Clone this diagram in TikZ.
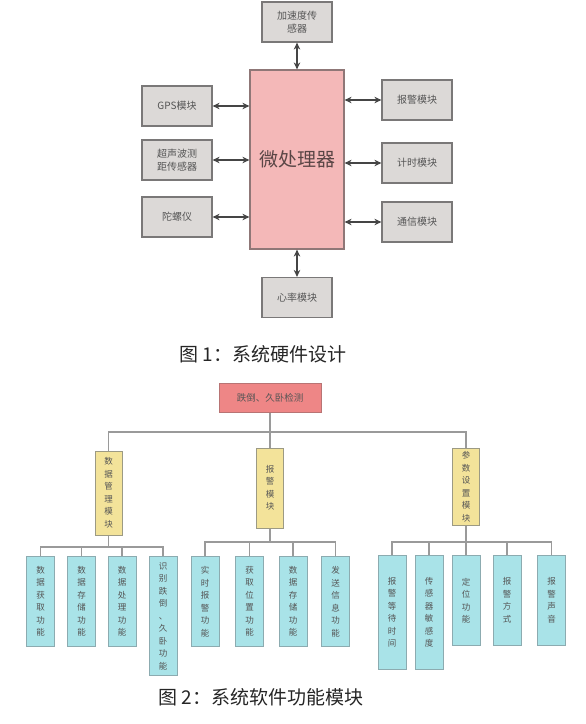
\documentclass[tikz,border=0pt]{standalone}
\usepackage{fontspec}
\newfontfamily\cjk{Noto Sans CJK SC}
\usetikzlibrary{arrows.meta}
\definecolor{boxgray}{HTML}{DCD9D7}
\definecolor{linegray}{HTML}{7A7878}
\definecolor{txtgray}{HTML}{555555}
\definecolor{cpufill}{HTML}{F4B8B8}
\definecolor{cpuline}{HTML}{8F7777}
\definecolor{cputxt}{HTML}{5A4646}
\definecolor{arrgray}{HTML}{454545}
\definecolor{rootfill}{HTML}{EE8686}
\definecolor{rootline}{HTML}{B87474}
\definecolor{modfill}{HTML}{F3E39A}
\definecolor{modline}{HTML}{9C9A84}
\definecolor{funfill}{HTML}{A9E3E8}
\definecolor{funline}{HTML}{8CABB0}
\definecolor{conngray}{HTML}{9A9A9A}

\begin{document}
\begin{tikzpicture}[x=1pt,y=-1pt,
  every node/.style={font=\cjk, inner sep=1, align=center},
  hwbox/.style={draw=linegray, fill=boxgray, line width=1.2, minimum width=70, minimum height=40, text=txtgray, font=\cjk\fontsize{10}{12.5}\selectfont},
  cpubox/.style={draw=cpuline, fill=cpufill, line width=1.2, minimum width=94, minimum height=179, text=cputxt, font=\cjk\fontsize{19}{22}\selectfont},
  biarr/.style={{Stealth[length=7pt,width=6.5pt]}-{Stealth[length=7pt,width=6.5pt]}, draw=arrgray, line width=1.3},
  rootbox/.style={draw=rootline, fill=rootfill, line width=1, minimum width=102, minimum height=29, text=txtgray, font=\cjk\fontsize{9.5}{11}\selectfont},
  modbox/.style={draw=modline, fill=modfill, line width=1, minimum width=27, text=txtgray, font=\cjk\fontsize{8.5}{12.5}\selectfont},
  funbox/.style={draw=funline, fill=funfill, line width=1, minimum width=28, anchor=north, text=txtgray, font=\cjk\fontsize{8.5}{12.5}\selectfont},
  conn/.style={draw=conngray, line width=1.2},
  capt/.style={font=\cjk\fontsize{19}{22}\selectfont, text=black!85}]
  \useasboundingbox (0,0) rectangle (586,724);
  % hardware
  \node[cpubox] (cpu) at (297,159.5) {微处理器};
  \node[hwbox] (acc) at (297,22) {加速度传\\感器};
  \node[hwbox] (heart) at (297,297.5) {心率模块};
  \draw[biarr] (acc) -- (cpu);
  \draw[biarr] (heart) -- (cpu);
  \foreach \n/\y/\lab in {gps/106/GPS模块,sonar/160/超声波测\\距传感器,gyro/217/陀螺仪} {
    \node[hwbox] (\n) at (177,\y) {\lab};
    \draw[biarr] (\n) -- (\n -| cpu.west);
  }
  \foreach \n/\y/\lab in {alarm/100/报警模块,timer/163/计时模块,comm/222/通信模块} {
    \node[hwbox] (\n) at (417,\y) {\lab};
    \draw[biarr] (\n) -- (\n -| cpu.east);
  }
  \node[capt] (cap1) at (263,354) {图 1：系统硬件设计};
  % software
  \node[rootbox] (root) at (270,397.5) {跌倒、久卧检测};
  \node[modbox, minimum height=84] (dm) at (108.5,493) {数\\据\\管\\理\\模\\块};
  \node[modbox, minimum height=80] (am) at (270,488) {报\\警\\模\\块};
  \node[modbox, minimum height=77] (ps) at (466,486.5) {参\\数\\设\\置\\模\\块};
  \coordinate (bus) at (270,432);
  \draw[conn] (root) -- (bus);
  \draw[conn] (dm.north) |- (bus) -| (ps.north);
  \draw[conn] (bus) -- (am.north);
  \coordinate (dmbus) at (108.5,547);
  \coordinate (ambus) at (270,542);
  \coordinate (psbus) at (466,542);
  \draw[conn] (dm) -- (dmbus);
  \draw[conn] (am) -- (ambus);
  \draw[conn] (ps) -- (psbus);
  \foreach \i/\x/\h/\lab in {1/40.5/90/数\\据\\获\\取\\功\\能,2/81.5/90/数\\据\\存\\储\\功\\能,3/122/90/数\\据\\处\\理\\功\\能,4/163/119/识\\别\\跌\\倒\\、\\久\\卧\\功\\能} {
    \node[funbox, minimum height=\h] (dmc\i) at (\x,556) {\lab};
    \draw[conn] (dmc\i.north) |- (dmbus);
  }
  \foreach \i/\x/\h/\lab in {1/205/90/实\\时\\报\\警\\功\\能,2/249.5/90/获\\取\\位\\置\\功\\能,3/293/90/数\\据\\存\\储\\功\\能,4/335.5/90/发\\送\\信\\息\\功\\能} {
    \node[funbox, minimum height=\h] (amc\i) at (\x,556) {\lab};
    \draw[conn] (amc\i.north) |- (ambus);
  }
  \foreach \i/\x/\h/\lab in {1/392/114/报\\警\\等\\待\\时\\间,2/429/114/传\\感\\器\\敏\\感\\度,3/466/90/定\\位\\功\\能,4/507/90/报\\警\\方\\式,5/551.5/90/报\\警\\声\\音} {
    \node[funbox, minimum height=\h] (psc\i) at (\x,555) {\lab};
    \draw[conn] (psc\i.north) |- (psbus);
  }
  \node[capt] (cap2) at (261,697) {图 2：系统软件功能模块};
\end{tikzpicture}
\end{document}
